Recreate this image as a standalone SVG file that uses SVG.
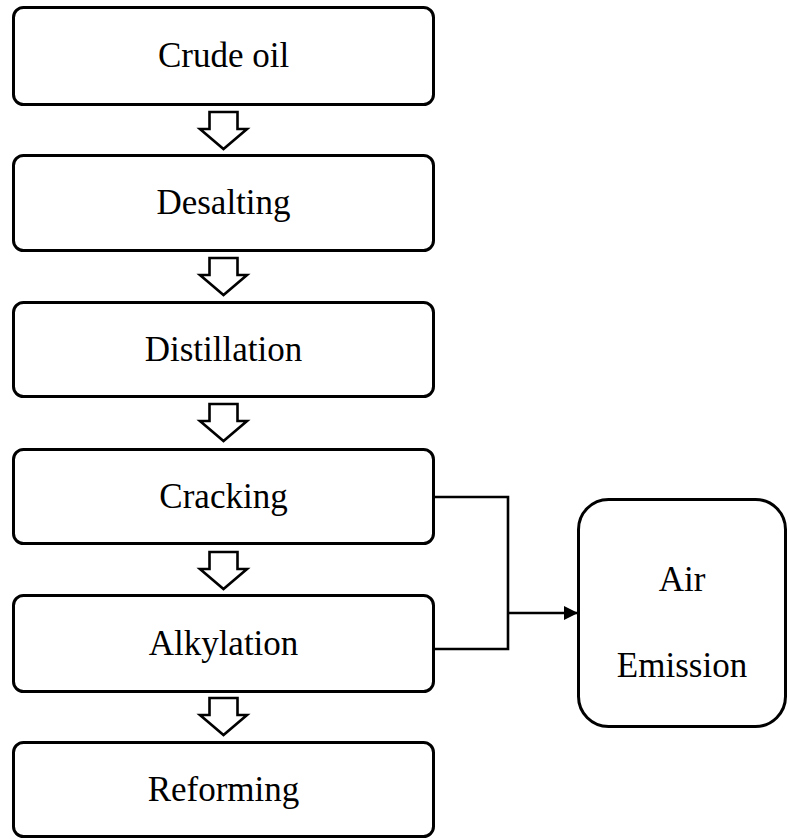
<svg xmlns="http://www.w3.org/2000/svg" width="788" height="840" viewBox="0 0 788 840">
<style>
.box{fill:#fff;stroke:#000;stroke-width:3}
.blk{fill:#fff;stroke:#000;stroke-width:2.6;stroke-linejoin:miter}
.lbl{font-family:'Liberation Serif','Times New Roman',Times,serif;font-size:35px;fill:#000;text-anchor:middle}
.con{fill:none;stroke:#000;stroke-width:2.6}
</style>
<defs>
<marker id="ah" markerWidth="14" markerHeight="14" refX="13" refY="7" orient="auto" markerUnits="userSpaceOnUse">
<path d="M0,0 L14,7 L0,14 Z" fill="#000"/>
</marker>
<path id="down" d="M209.5,0 L237.5,0 L237.5,17 L247,17 L223.5,37 L200,17 L209.5,17 Z"/>
</defs>
<rect width="788" height="840" fill="#fff"/>
<g id="crude-oil"><rect class="box" x="13.5" y="7.5" width="420" height="97" rx="10"/><text class="lbl" x="223.5" y="67" font-family="Liberation Serif, serif">Crude oil</text></g>
<g id="desalting"><rect class="box" x="13.5" y="155.5" width="420" height="95" rx="10"/><text class="lbl" x="223.5" y="214" font-family="Liberation Serif, serif">Desalting</text></g>
<g id="distillation"><rect class="box" x="13.5" y="302.5" width="420" height="94" rx="10"/><text class="lbl" x="223.5" y="361" font-family="Liberation Serif, serif">Distillation</text></g>
<g id="cracking"><rect class="box" x="13.5" y="449.5" width="420" height="94" rx="10"/><text class="lbl" x="223.5" y="508" font-family="Liberation Serif, serif">Cracking</text></g>
<g id="alkylation"><rect class="box" x="13.5" y="595.5" width="420" height="96" rx="10"/><text class="lbl" x="223.5" y="655" font-family="Liberation Serif, serif">Alkylation</text></g>
<g id="reforming"><rect class="box" x="13.5" y="742.5" width="420" height="94" rx="10"/><text class="lbl" x="223.5" y="801" font-family="Liberation Serif, serif">Reforming</text></g>
<g id="air-emission"><rect class="box" x="578.5" y="499.5" width="207" height="227" rx="30"/><text class="lbl" x="682" y="591" font-family="Liberation Serif, serif">Air</text><text class="lbl" x="682" y="677" font-family="Liberation Serif, serif">Emission</text></g>
<g id="connectors">
<use href="#down" class="blk" transform="translate(0,112)"/>
<use href="#down" class="blk" transform="translate(0,258)"/>
<use href="#down" class="blk" transform="translate(0,404)"/>
<use href="#down" class="blk" transform="translate(0,552)"/>
<use href="#down" class="blk" transform="translate(0,698)"/>
<path class="con" d="M435,497 L508,497 L508,649 L435,649"/>
<path class="con" d="M508,613 L577,613" marker-end="url(#ah)"/>
</g>
</svg>
